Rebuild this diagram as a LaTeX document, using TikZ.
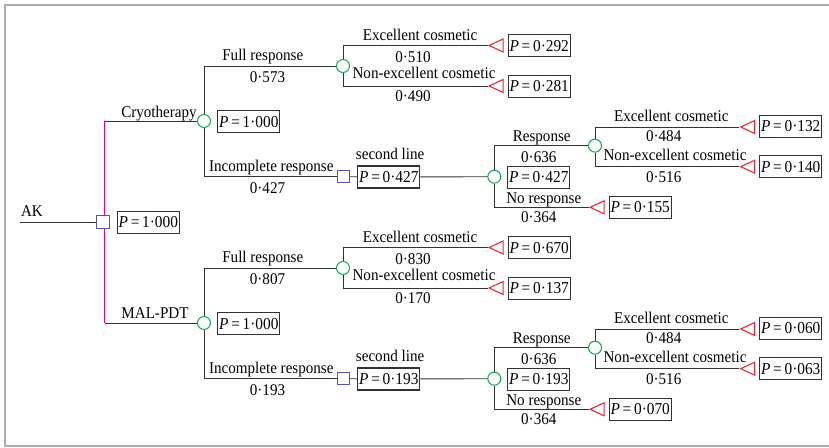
\documentclass[tikz,border=0pt]{standalone}
\usepackage{fontspec}
\setmainfont[FakeStretch=0.92]{Liberation Serif}
\usetikzlibrary{shapes.geometric}
\definecolor{framegray}{RGB}{172,172,178}
\definecolor{treeline}{RGB}{50,50,50}
\definecolor{chancegreen}{RGB}{20,170,90}
\definecolor{decblue}{RGB}{85,85,175}
\definecolor{endred}{RGB}{235,35,45}
\definecolor{rootpink}{RGB}{230,0,140}
\newcommand{\pval}[1]{\textit{P}\,=\,#1}
\begin{document}
\begin{tikzpicture}[x=0.75pt,y=-0.75pt,
	font=\fontsize{12.3}{14}\selectfont,
	branch/.style={draw=treeline,line width=0.7pt},
	rootline/.style={draw=rootpink,line width=0.9pt},
	chance/.style={circle,draw=chancegreen,line width=0.8pt,fill=white,minimum size=9.75pt,inner sep=0pt},
	decision/.style={rectangle,draw=decblue,line width=0.8pt,fill=white,minimum size=9.25pt,inner sep=0pt},
	terminal/.style={isosceles triangle,isosceles triangle stretches,shape border rotate=180,anchor=apex,draw=endred,line width=0.8pt,minimum width=9.75pt,minimum height=10.5pt,inner sep=0pt},
	pbox/.style={rectangle,draw=treeline,line width=0.8pt,minimum width=46.5pt,minimum height=16.5pt,inner sep=1pt,font=\fontsize{12.5}{15}\selectfont},
	lab/.style={anchor=base,inner sep=0pt}]
	\useasboundingbox (0,0) rectangle (829,448);
	% Frame
	\draw[framegray,line width=1.9pt] (829,5) -- (5,5) -- (5,446) -- (829,446);
	% Root
	\coordinate (ak) at (20,222);
	\node[lab] (aklab) at (32,216.7) {AK};
	\node[chance] (cryo) at (204,121) {};
	\node[chance] (mal) at (204,323) {};
	\coordinate (cryoknee) at (104.5,121);
	\coordinate (malknee) at (104.5,323);
	\draw[rootline] (cryoknee) -- (malknee);
	\node[decision] (root) at (103,222) {};
	\node[pbox] (rootp) at (148.3,222.3) {\pval{1·000}};
	\draw[branch] (ak) -- (root);
	\draw[branch] (cryoknee) -- (cryo);
	\draw[branch] (malknee) -- (mal);
	% Cryotherapy
	\node[lab] (cryolab) at (159,117.5) {Cryotherapy};
	\node[pbox] (cryop) at (248.8,121.7) {\pval{1·000}};
	% full response
	\node[chance] (cfull) at (343,66) {};
	\draw[branch] (cryo) |- (cfull);
	\node[lab] (cfulllab) at (262.8,61) {Full response};
	\node[lab] (cfullpr) at (267.5,82.7) {0·573};
	\node[terminal] (cexc) at (487.7,45.5) {};
	\node[terminal] (cnon) at (487.7,86) {};
	\draw[branch] (cfull) |- (cexc);
	\draw[branch] (cfull) |- (cnon);
	\node[lab] (cexclab) at (420,40.7) {Excellent cosmetic};
	\node[lab] (cexcpr) at (413,62.3) {0·510};
	\node[lab] (cnonlab) at (424,79) {Non-excellent cosmetic};
	\node[lab] (cnonpr) at (413,101.7) {0·490};
	\node[pbox] (cexcp) at (539.2,45.8) {\pval{0·292}};
	\node[pbox] (cnonp) at (539.2,86.2) {\pval{0·281}};
	% incomplete response
	\node[decision] (csec) at (343.5,176.7) {};
	\draw[branch] (cryo) |- (csec);
	\node[lab] (cinclab) at (271.3,171.7) {Incomplete response};
	\node[lab] (cincpr) at (267.5,193.3) {0·427};
	\node[pbox] (csecp) at (388.8,177) {\pval{0·427}};
	\node[lab,anchor=base west] (cseclab) at (355.7,160) {second line};
	\node[chance] (cnext) at (494.3,176.7) {};
	\draw[branch] (csec) -- (csecp);
	\draw[branch] (csecp) -- (cnext);
	\node[pbox] (cnextp) at (538.8,177.5) {\pval{0·427}};
	\node[chance] (cresp) at (595,145.7) {};
	\node[terminal] (cnor) at (588.7,207.3) {};
	\draw[branch] (cnext) |- (cresp);
	\draw[branch] (cnext) |- (cnor);
	\node[lab] (cresplab) at (541.7,141.7) {Response};
	\node[lab] (cresppr) at (538.8,162.7) {0·636};
	\node[lab] (cnorlab) at (543.8,203.3) {No response};
	\node[lab] (cnorpr) at (538.8,222.7) {0·364};
	\node[pbox] (cnorp) at (640.2,207.2) {\pval{0·155}};
	\node[terminal] (cexc2) at (739.3,127) {};
	\node[terminal] (cnon2) at (739.3,166.7) {};
	\draw[branch] (cresp) |- (cexc2);
	\draw[branch] (cresp) |- (cnon2);
	\node[lab] (cexc2lab) at (671.3,121.7) {Excellent cosmetic};
	\node[lab] (cexc2pr) at (663.7,141.7) {0·484};
	\node[lab] (cnon2lab) at (675,160.7) {Non-excellent cosmetic};
	\node[lab] (cnon2pr) at (663.7,182.7) {0·516};
	\node[pbox] (cexc2p) at (790.7,126.5) {\pval{0·132}};
	\node[pbox] (cnon2p) at (790.7,166.8) {\pval{0·140}};
	% MAL-PDT
	\begin{scope}[shift={(0,202)}]
	\node[lab] (mallab) at (155,117) {MAL-PDT};
	\node[pbox] (malp) at (248.8,121.7) {\pval{1·000}};
	% full response
	\node[chance] (mfull) at (343,66) {};
	\draw[branch] (mal) |- (mfull);
	\node[lab] (mfulllab) at (262.8,61) {Full response};
	\node[lab] (mfullpr) at (267.5,82.7) {0·807};
	\node[terminal] (mexc) at (487.7,45.5) {};
	\node[terminal] (mnon) at (487.7,86) {};
	\draw[branch] (mfull) |- (mexc);
	\draw[branch] (mfull) |- (mnon);
	\node[lab] (mexclab) at (420,40.7) {Excellent cosmetic};
	\node[lab] (mexcpr) at (413,62.3) {0·830};
	\node[lab] (mnonlab) at (424,79) {Non-excellent cosmetic};
	\node[lab] (mnonpr) at (413,101.7) {0·170};
	\node[pbox] (mexcp) at (539.2,45.8) {\pval{0·670}};
	\node[pbox] (mnonp) at (539.2,86.2) {\pval{0·137}};
	% incomplete response
	\node[decision] (msec) at (343.5,176.7) {};
	\draw[branch] (mal) |- (msec);
	\node[lab] (minclab) at (271.3,171.7) {Incomplete response};
	\node[lab] (mincpr) at (267.5,193.3) {0·193};
	\node[pbox] (msecp) at (388.8,177) {\pval{0·193}};
	\node[lab,anchor=base west] (mseclab) at (355.7,160) {second line};
	\node[chance] (mnext) at (494.3,176.7) {};
	\draw[branch] (msec) -- (msecp);
	\draw[branch] (msecp) -- (mnext);
	\node[pbox] (mnextp) at (538.8,177.5) {\pval{0·193}};
	\node[chance] (mresp) at (595,145.7) {};
	\node[terminal] (mnor) at (588.7,207.3) {};
	\draw[branch] (mnext) |- (mresp);
	\draw[branch] (mnext) |- (mnor);
	\node[lab] (mresplab) at (541.7,141.7) {Response};
	\node[lab] (mresppr) at (538.8,162.7) {0·636};
	\node[lab] (mnorlab) at (543.8,203.3) {No response};
	\node[lab] (mnorpr) at (538.8,222.7) {0·364};
	\node[pbox] (mnorp) at (640.2,207.2) {\pval{0·070}};
	\node[terminal] (mexc2) at (739.3,127) {};
	\node[terminal] (mnon2) at (739.3,166.7) {};
	\draw[branch] (mresp) |- (mexc2);
	\draw[branch] (mresp) |- (mnon2);
	\node[lab] (mexc2lab) at (671.3,121.7) {Excellent cosmetic};
	\node[lab] (mexc2pr) at (663.7,141.7) {0·484};
	\node[lab] (mnon2lab) at (675,160.7) {Non-excellent cosmetic};
	\node[lab] (mnon2pr) at (663.7,182.7) {0·516};
	\node[pbox] (mexc2p) at (790.7,126.5) {\pval{0·060}};
	\node[pbox] (mnon2p) at (790.7,166.8) {\pval{0·063}};
	\end{scope}
\end{tikzpicture}
\end{document}
